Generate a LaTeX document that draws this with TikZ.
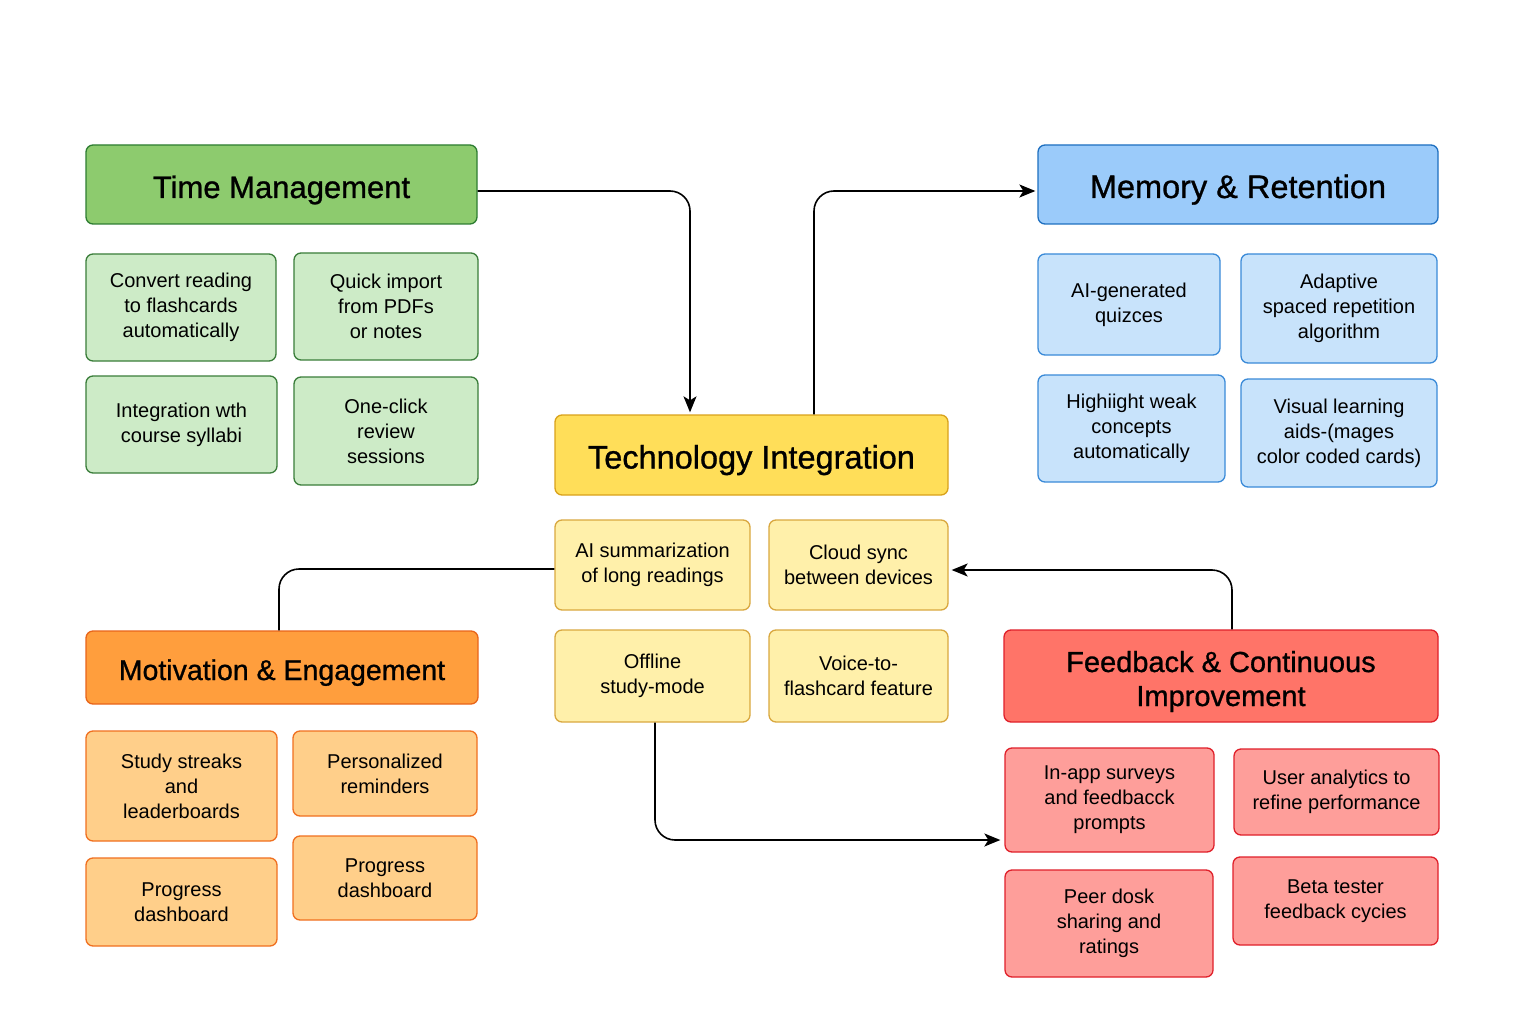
\documentclass[tikz,border=0pt]{standalone}
\usepackage{fontspec}
\setmainfont{Liberation Sans}
\newfontfamily\headfont{Liberation Sans}[FakeBold=0.9]
\usetikzlibrary{arrows.meta}
\definecolor{gH}{HTML}{8DCB6E}\definecolor{gHd}{HTML}{2E7D32}
\definecolor{gS}{HTML}{CDEBC7}\definecolor{gSd}{HTML}{3A7D3A}
\definecolor{bH}{HTML}{9BCBFA}\definecolor{bHd}{HTML}{1E6FC0}
\definecolor{bS}{HTML}{C8E3FB}\definecolor{bSd}{HTML}{3A8AD8}
\definecolor{yH}{HTML}{FFDE59}\definecolor{yHd}{HTML}{D9A21B}
\definecolor{yS}{HTML}{FFF0AA}\definecolor{ySd}{HTML}{D9A840}
\definecolor{oH}{HTML}{FF9E3D}\definecolor{oHd}{HTML}{E8651A}
\definecolor{oS}{HTML}{FFCF8A}\definecolor{oSd}{HTML}{F07020}
\definecolor{rH}{HTML}{FF7468}\definecolor{rHd}{HTML}{E0202A}
\definecolor{rS}{HTML}{FE9E9A}\definecolor{rSd}{HTML}{E0202A}
\begin{document}
\begin{tikzpicture}[x=1pt,y=-1pt,
  box/.style={draw, rounded corners=7pt, line width=1.3pt, align=center, inner sep=0pt,
    font=\fontsize{20}{25}\selectfont},
  head/.style={box, text height=27pt, text depth=0pt},
  hf/.style={font=\headfont\fontsize{#1}{34}\selectfont},
  green/.style={box, fill=gS, draw=gSd},
  greenH/.style={head, fill=gH, draw=gHd},
  blue/.style={box, fill=bS, draw=bSd},
  blueH/.style={head, fill=bH, draw=bHd},
  yellow/.style={box, fill=yS, draw=ySd},
  yellowH/.style={head, fill=yH, draw=yHd},
  orange/.style={box, fill=oS, draw=oSd},
  orangeH/.style={head, fill=oH, draw=oHd},
  red/.style={box, fill=rS, draw=rSd},
  redH/.style={head, fill=rH, draw=rHd},
  conn/.style={line width=1.6pt, rounded corners=20pt},
  arr/.style={conn, -{Stealth[length=16pt,width=13pt,inset=4pt]}}
]
\useasboundingbox[fill=white] (0,0) rectangle (1536,1024);

% Time Management
\node[greenH, hf=31, minimum width=391pt, minimum height=79pt] (TM) at (281.5,184.5) {Time Management};
\node[green, minimum width=190pt, minimum height=107pt] (TM1) at (181,307.5) {Convert reading\\to flashcards\\automatically};
\node[green, minimum width=184pt, minimum height=107pt] (TM2) at (386,306.5) {Quick import\\from PDFs\\or notes};
\node[green, minimum width=191pt, minimum height=97pt] (TM3) at (181.5,424.5) {Integration wth\\course syllabi};
\node[green, minimum width=184pt, minimum height=108pt] (TM4) at (386,431) {One-click\\review\\sessions};

% Memory & Retention
\node[blueH, hf=32.5, minimum width=400pt, minimum height=79pt] (MR) at (1238,184.5) {Memory \& Retention};
\node[blue, minimum width=182pt, minimum height=101pt] (MR1) at (1129,304.5) {AI-generated\\quizces};
\node[blue, minimum width=196pt, minimum height=109pt] (MR2) at (1339,308.5) {Adaptive\\spaced repetition\\algorithm};
\node[blue, minimum width=187pt, minimum height=107pt] (MR3) at (1131.5,428.5) {Highiight weak\\concepts\\automatically};
\node[blue, minimum width=196pt, minimum height=108pt] (MR4) at (1339,433) {Visual learning\\aids-(mages\\color coded cards)};

% Technology Integration
\node[yellowH, hf=32.5, minimum width=393pt, minimum height=80pt] (TI) at (751.5,455) {Technology Integration};
\node[yellow, minimum width=195pt, minimum height=90pt] (T1) at (652.5,565) {AI summarization\\of long readings};
\node[yellow, minimum width=179pt, minimum height=90pt] (T2) at (858.5,565) {Cloud sync\\between devices};
\node[yellow, minimum width=195pt, minimum height=92pt] (T3) at (652.5,676) {Offline\\study-mode};
\node[yellow, minimum width=179pt, minimum height=92pt] (T4) at (858.5,676) {Voice-to-\\flashcard feature};

% Motivation & Engagement
\node[orangeH, hf=28.5, text height=25pt, minimum width=392pt, minimum height=73pt] (ME) at (282,667.5) {Motivation \& Engagement};
\node[orange, minimum width=191pt, minimum height=110pt] (M1) at (181.5,786) {Study streaks\\and\\leaderboards};
\node[orange, minimum width=184pt, minimum height=85pt] (M2) at (385,773.5) {Personalized\\reminders};
\node[orange, minimum width=191pt, minimum height=88pt] (M3) at (181.5,902) {Progress\\dashboard};
\node[orange, minimum width=184pt, minimum height=84pt] (M4) at (385,878) {Progress\\dashboard};

% Feedback & Continuous Improvement
\node[redH, hf=29, text height=60pt, minimum width=434pt, minimum height=92pt] (FB) at (1221,676) {Feedback \& Continuous\\Improvement};
\node[red, minimum width=209pt, minimum height=104pt] (F1) at (1109.5,800) {In-app surveys\\and feedbacck\\prompts};
\node[red, minimum width=205pt, minimum height=86pt] (F2) at (1336.5,792) {User analytics to\\refine performance};
\node[red, minimum width=208pt, minimum height=107pt] (F3) at (1109,923.5) {Peer dosk\\sharing and\\ratings};
\node[red, minimum width=205pt, minimum height=88pt] (F4) at (1335.5,901) {Beta tester\\feedback cycies};

% Connectors
\draw[arr, shorten >=2pt] ([yshift=-6.5pt]TM.east) -| ([xshift=-61.5pt]TI.north);
\draw[arr, shorten >=2pt] ([xshift=62.5pt]TI.north) |- ([yshift=-6.5pt]MR.west);
\draw[conn] ([yshift=-4pt]T1.west) -| ([xshift=-3pt]ME.north);
\draw[arr, shorten >=3pt] ([xshift=11pt]FB.north) |- ([yshift=-5pt]T2.east);
\draw[arr, shorten >=4pt] ([xshift=2.5pt]T3.south) |- ([yshift=-40pt]F1.west);
\end{tikzpicture}
\end{document}
